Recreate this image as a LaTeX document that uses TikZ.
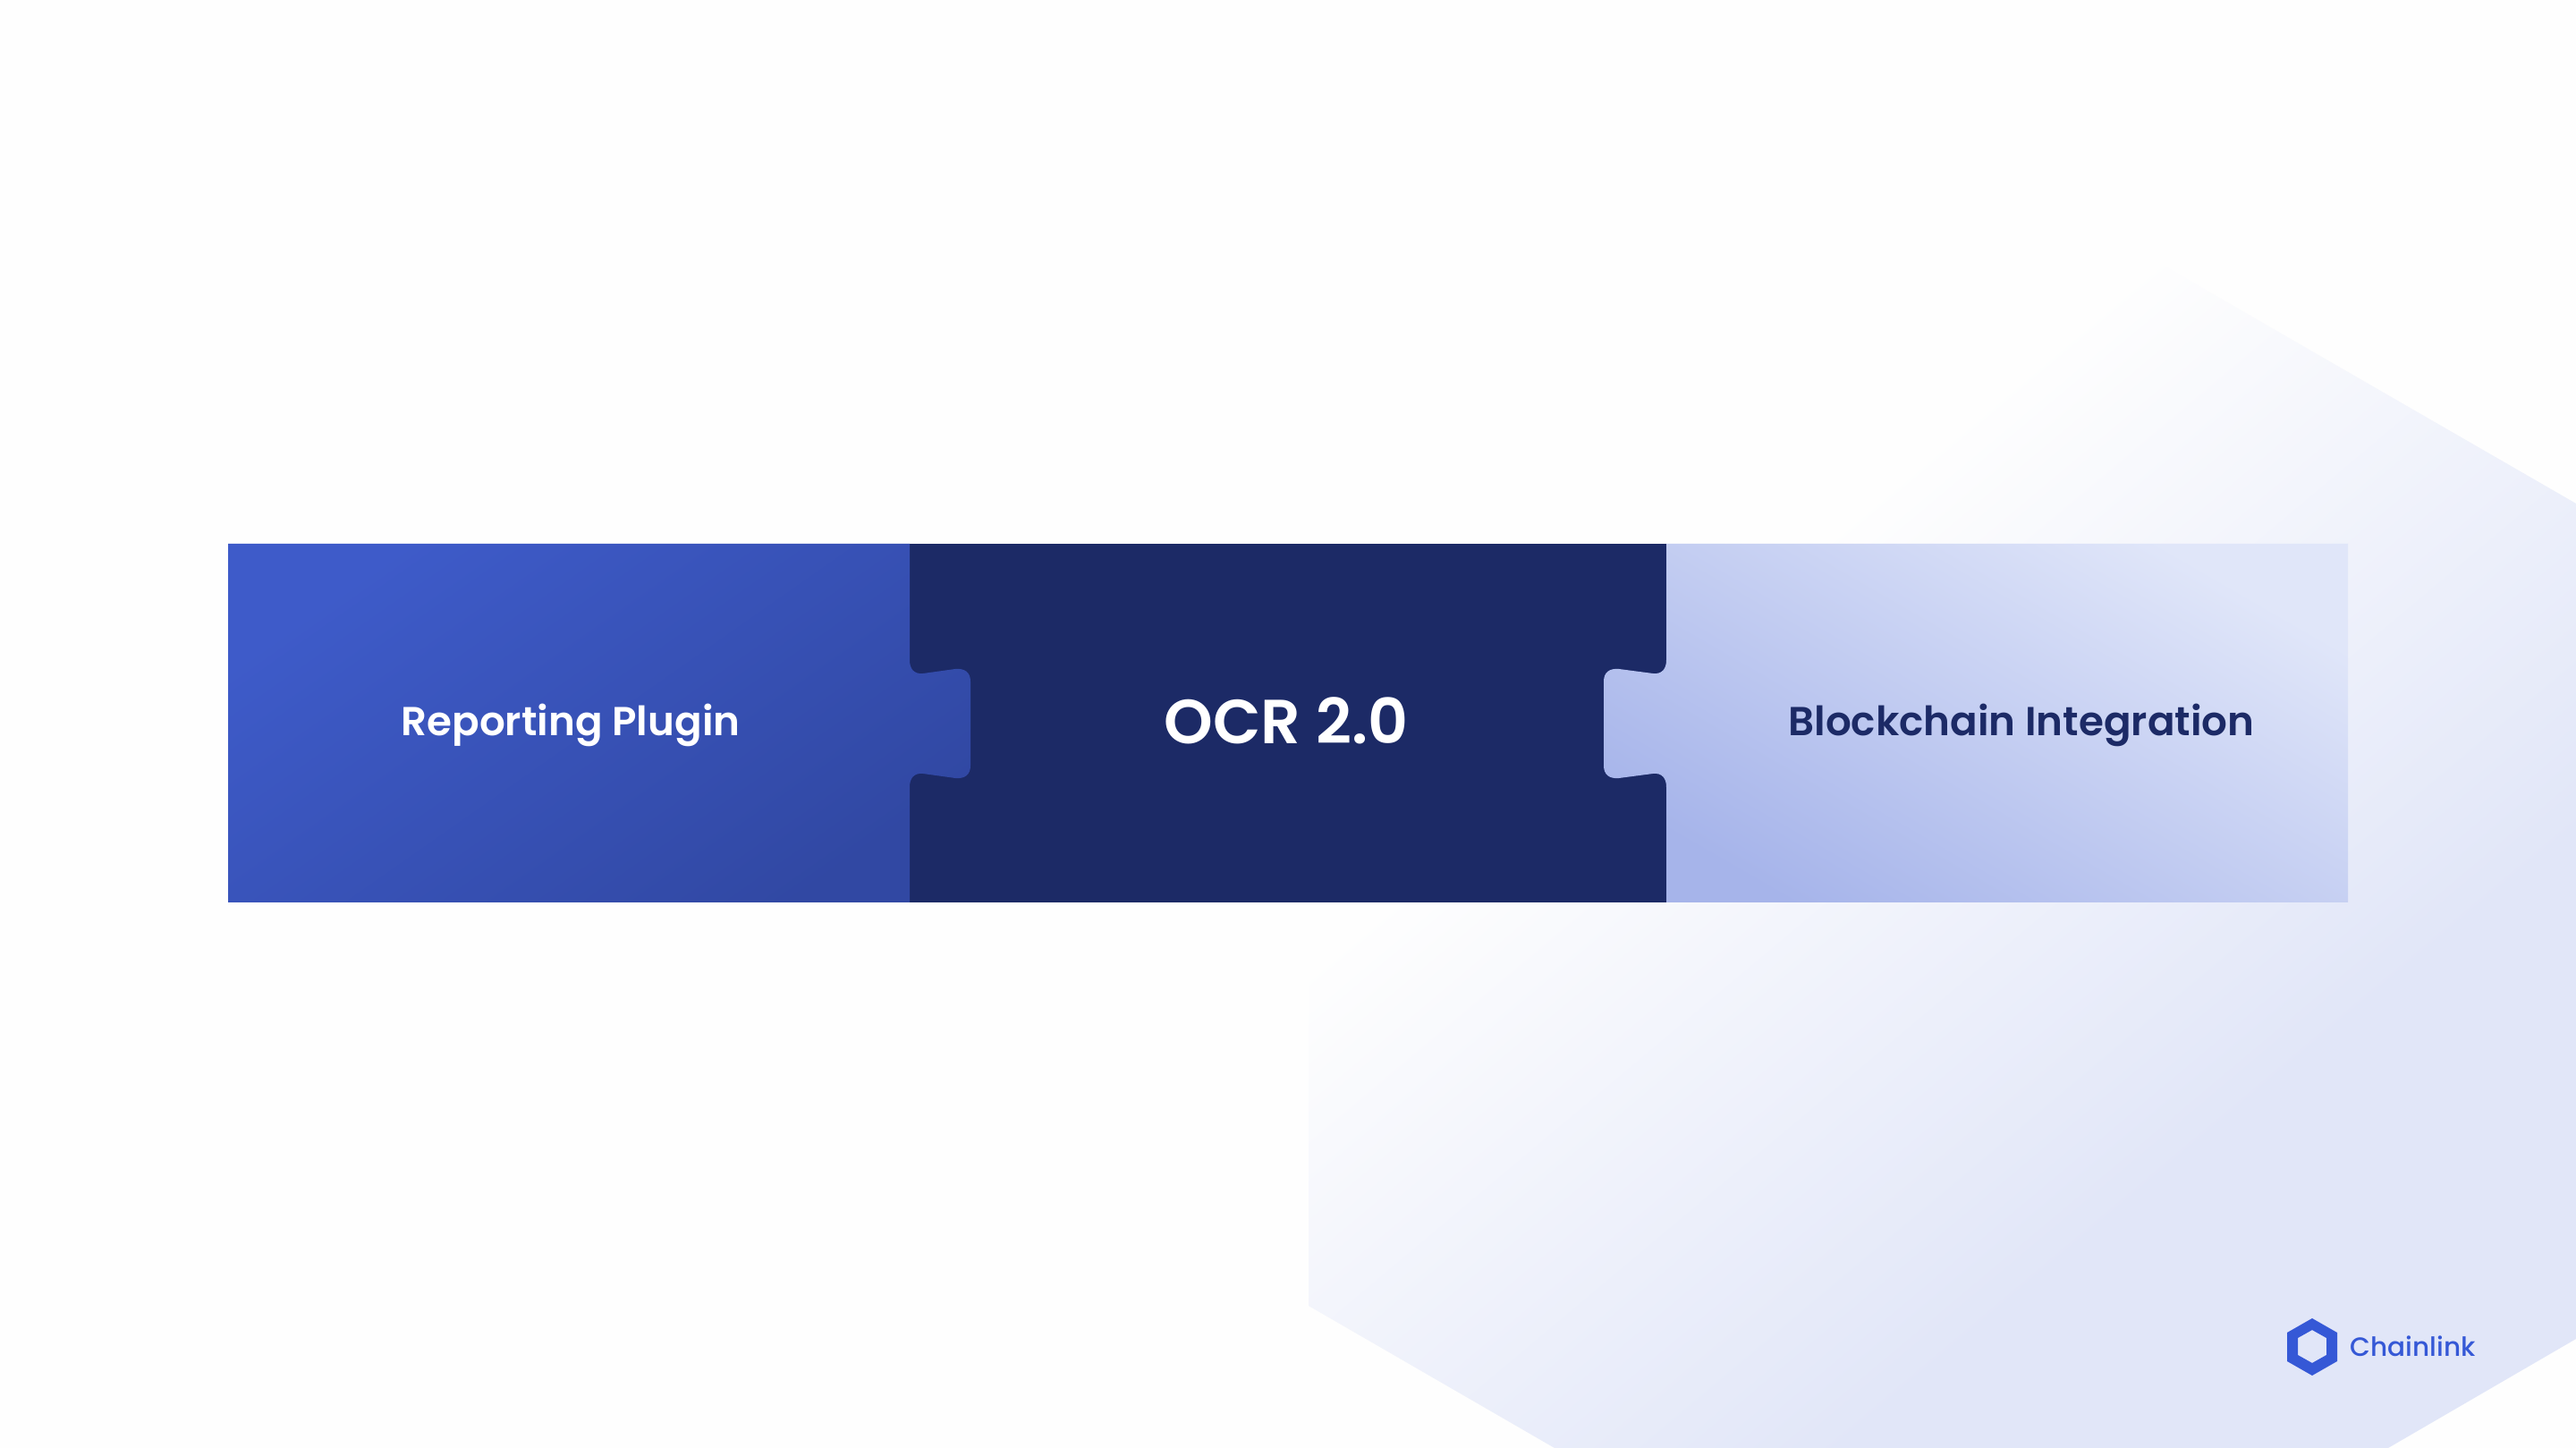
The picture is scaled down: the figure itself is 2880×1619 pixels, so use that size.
\documentclass[tikz,border=0pt]{standalone}
\usepackage{fontspec}
\setmainfont{Poppins}
\newfontfamily\lblfont[UprightFont=* SemiBold]{Poppins}
\newfontfamily\logofont[UprightFont=* Medium]{Poppins}
\definecolor{pagewhite}{HTML}{FEFEFE}
\definecolor{hexblue}{HTML}{E1E6F8}
\definecolor{nightblue}{HTML}{1C2A66}
\definecolor{plugtop}{HTML}{3E5BC9}
\definecolor{plugend}{HTML}{3148A3}
\definecolor{chainlow}{HTML}{A6B4EA}
\definecolor{chainhigh}{HTML}{E0E6F9}
\definecolor{linkblue}{HTML}{3558D6}
\pgfdeclareverticalshading{hexfade}{100bp}{color(0bp)=(hexblue); color(33bp)=(hexblue); color(61bp)=(pagewhite); color(100bp)=(pagewhite)}
\tikzstyle{lbl} = [font=\lblfont\fontsize{12.85pt}{15pt}\selectfont, inner sep=0pt]
\tikzstyle{bigLbl} = [font=\lblfont\fontsize{19.8pt}{24pt}\selectfont, inner sep=0pt, text=white]
\tikzstyle{logoLbl} = [font=\logofont\fontsize{8.4pt}{11pt}\selectfont, inner sep=0pt, text=linkblue, anchor=west]
\begin{document}
\begin{tikzpicture}[x=0.01cm,y=-0.01cm]
  \useasboundingbox (0,0) rectangle (2880,1619);
  \fill[pagewhite] (0,0) rectangle (2880,1619);

  % big hexagon, cut off by the page
  \shade[shading=hexfade, shading angle=40] (2204,173) -- (2880,563) -- (2880,1497) -- (2670,1619)
    -- (1738,1619) -- (1463,1460) -- (1463,601) -- cycle;

  % middle piece lies under the others
  \fill[nightblue] (990,607.7) rectangle (1886,1009.3);

  \shade[top color=plugtop, bottom color=plugend, shading angle=35]
    (255,608) -- (1017,608) -- (1017,738)
    .. controls (1017,748) and (1022,754) .. (1032,753) -- (1068,748)
    .. controls (1079,747) and (1085,752) .. (1085,762) -- (1085,856)
    .. controls (1085,866) and (1079,871) .. (1068,870) -- (1032,865)
    .. controls (1022,864) and (1017,870) .. (1017,880) -- (1017,1009) -- (255,1009) -- cycle;

  \shade[top color=chainhigh, bottom color=chainlow, shading angle=-30]
    (2625,608) -- (1863,608) -- (1863,738)
    .. controls (1863,748) and (1858,754) .. (1848,753) -- (1810,748)
    .. controls (1799,747) and (1793,752) .. (1793,762) -- (1793,856)
    .. controls (1793,866) and (1799,871) .. (1810,870) -- (1848,865)
    .. controls (1858,864) and (1863,870) .. (1863,880) -- (1863,1009) -- (2625,1009) -- cycle;

  \node[lbl, text=white] (plugin) at (638,811) {Reporting Plugin};
  \node[bigLbl] (ocr) at (1438,806) {OCR 2.0};
  \node[lbl, text=nightblue] (chain) at (2260,811) {Blockchain Integration};

  % logo
  \fill[linkblue, even odd rule] (2585,1474) -- (2613,1490) -- (2613,1522) -- (2585,1538) -- (2557,1522) -- (2557,1490) -- cycle
    (2585,1487) -- (2601,1496) -- (2601,1515) -- (2585,1524) -- (2569,1515) -- (2569,1496) -- cycle;
  \node[logoLbl] (brand) at (2627,1505) {Chainlink};
\end{tikzpicture}
\end{document}
